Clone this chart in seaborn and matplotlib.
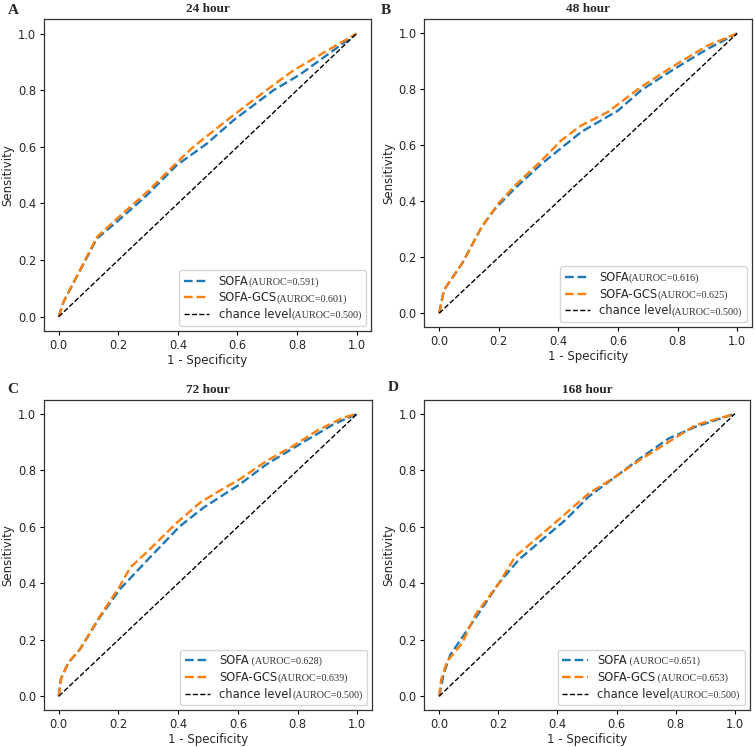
import matplotlib
matplotlib.use("Agg")
import matplotlib.pyplot as plt
import seaborn as sns
from matplotlib.offsetbox import TextArea, HPacker

# panel meta
PANELS = ["A", "B", "C", "D"]
TITLES = ["24 hour", "48 hour", "72 hour", "168 hour"]
SOFA_NOTES = ["(AUROC=0.591)", "(AUROC=0.616)", " (AUROC=0.628)", " (AUROC=0.651)"]
GCS_NOTES = ["(AUROC=0.601)", "(AUROC=0.625)", "(AUROC=0.639)", " (AUROC=0.653)"]
CHANCE_NOTE = "(AUROC=0.500)"

# ROC points (1 - specificity, sensitivity)
sofa_24_fpr = [0, 0.016, 0.128, 0.195, 0.296, 0.396, 0.497, 0.587, 0.721, 0.811, 1]
sofa_24_tpr = [0, 0.052, 0.276, 0.335, 0.429, 0.535, 0.611, 0.694, 0.800, 0.856, 1]
gcs_24_fpr = [0, 0.016, 0.128, 0.195, 0.296, 0.396, 0.452, 0.587, 0.710, 0.788, 0.923, 1]
gcs_24_tpr = [0, 0.052, 0.281, 0.346, 0.440, 0.544, 0.600, 0.712, 0.810, 0.870, 0.953, 1]

sofa_48_fpr = [0, 0.016, 0.077, 0.143, 0.188, 0.255, 0.344, 0.477, 0.600, 0.677, 0.789, 0.900, 1]
sofa_48_tpr = [0, 0.083, 0.178, 0.309, 0.374, 0.447, 0.534, 0.648, 0.724, 0.796, 0.873, 0.944, 1]
gcs_48_fpr = [0, 0.016, 0.077, 0.143, 0.199, 0.255, 0.344, 0.410, 0.477, 0.566, 0.677, 0.789, 0.900, 1]
gcs_48_tpr = [0, 0.083, 0.178, 0.309, 0.392, 0.457, 0.546, 0.618, 0.671, 0.719, 0.808, 0.885, 0.956, 1]

sofa_72_fpr = [0, 0.007, 0.032, 0.071, 0.138, 0.205, 0.305, 0.406, 0.484, 0.606, 0.696, 0.807, 0.919, 1]
sofa_72_tpr = [0, 0.060, 0.119, 0.166, 0.280, 0.379, 0.491, 0.602, 0.667, 0.750, 0.821, 0.892, 0.962, 1]
gcs_72_fpr = [0, 0.007, 0.032, 0.071, 0.138, 0.205, 0.239, 0.305, 0.395, 0.473, 0.528, 0.606, 0.696, 0.785, 0.863, 0.952, 1]
gcs_72_tpr = [0, 0.060, 0.119, 0.166, 0.284, 0.390, 0.455, 0.520, 0.614, 0.685, 0.721, 0.768, 0.833, 0.886, 0.939, 0.986, 1]

sofa_168_fpr = [0, 0.016, 0.038, 0.123, 0.202, 0.269, 0.348, 0.427, 0.506, 0.596, 0.687, 0.777, 0.867, 1]
sofa_168_tpr = [0, 0.082, 0.147, 0.277, 0.400, 0.483, 0.554, 0.624, 0.707, 0.777, 0.848, 0.913, 0.954, 1]
gcs_168_fpr = [0, 0.007, 0.027, 0.078, 0.123, 0.202, 0.258, 0.337, 0.416, 0.506, 0.596, 0.687, 0.777, 0.867, 1]
gcs_168_tpr = [0, 0.059, 0.124, 0.188, 0.289, 0.400, 0.495, 0.565, 0.636, 0.718, 0.777, 0.842, 0.901, 0.960, 1]

chance = [0, 1]

curves = [
    (sofa_24_fpr, sofa_24_tpr, gcs_24_fpr, gcs_24_tpr),
    (sofa_48_fpr, sofa_48_tpr, gcs_48_fpr, gcs_48_tpr),
    (sofa_72_fpr, sofa_72_tpr, gcs_72_fpr, gcs_72_tpr),
    (sofa_168_fpr, sofa_168_tpr, gcs_168_fpr, gcs_168_tpr),
]

sns.set_style("ticks")
plt.rcParams["font.family"] = ["DejaVu Sans"]

fig = plt.figure(figsize=(7.55, 7.47), dpi=100)
positions = [
    [0.058, 0.557, 0.434, 0.417],
    [0.562, 0.562, 0.434, 0.412],
    [0.058, 0.049, 0.435, 0.416],
    [0.562, 0.049, 0.431, 0.416],
]
letter_xy = [(0.010, 0.995), (0.505, 0.995), (0.010, 0.487), (0.513, 0.490)]

for i, (sf, st, gf, gt) in enumerate(curves):
    ax = fig.add_axes(positions[i])
    sns.lineplot(x=sf, y=st, ax=ax, sort=False, estimator=None, color="#1f77b4",
                 linestyle="--", linewidth=1.7, label="SOFA")
    sns.lineplot(x=gf, y=gt, ax=ax, sort=False, estimator=None, color="#ff7f0e",
                 linestyle="--", linewidth=1.7, label="SOFA-GCS")
    sns.lineplot(x=chance, y=chance, ax=ax, sort=False, estimator=None, color="black",
                 linestyle="--", linewidth=1.0, label="chance level")
    ax.set_xlabel("1 - Specificity", fontsize=8.5, labelpad=1.5)
    ax.set_ylabel("Sensitivity", fontsize=8.5, labelpad=2.5)
    ax.tick_params(labelsize=8.3, length=3, color="black", pad=2.5)
    for sp in ax.spines.values():
        sp.set_color("#333333")
        sp.set_linewidth(0.9)
    ax.set_title(TITLES[i], family="Liberation Serif", fontweight="bold", fontsize=9.5, pad=5)

    leg = ax.legend(loc="lower right", fontsize=8.3, handlelength=2.2, borderaxespad=0.45,
                    labelspacing=0.32)
    notes = [SOFA_NOTES[i], GCS_NOTES[i], CHANCE_NOTE]
    rows = leg._legend_handle_box.get_children()[0].get_children()
    for row, note in zip(rows, notes):
        text_box = row._children[1]
        extra = TextArea(note, textprops=dict(family="Liberation Serif", size=7.3, color="#333333"))
        row._children[1] = HPacker(pad=0, sep=0, align="baseline", children=[text_box, extra])
    leg._legend_box.set_figure(fig)

    fig.text(letter_xy[i][0], letter_xy[i][1], PANELS[i], family="Liberation Serif",
             fontweight="bold", fontsize=11, va="top", ha="left")

fig.savefig("out.png", dpi=100)
